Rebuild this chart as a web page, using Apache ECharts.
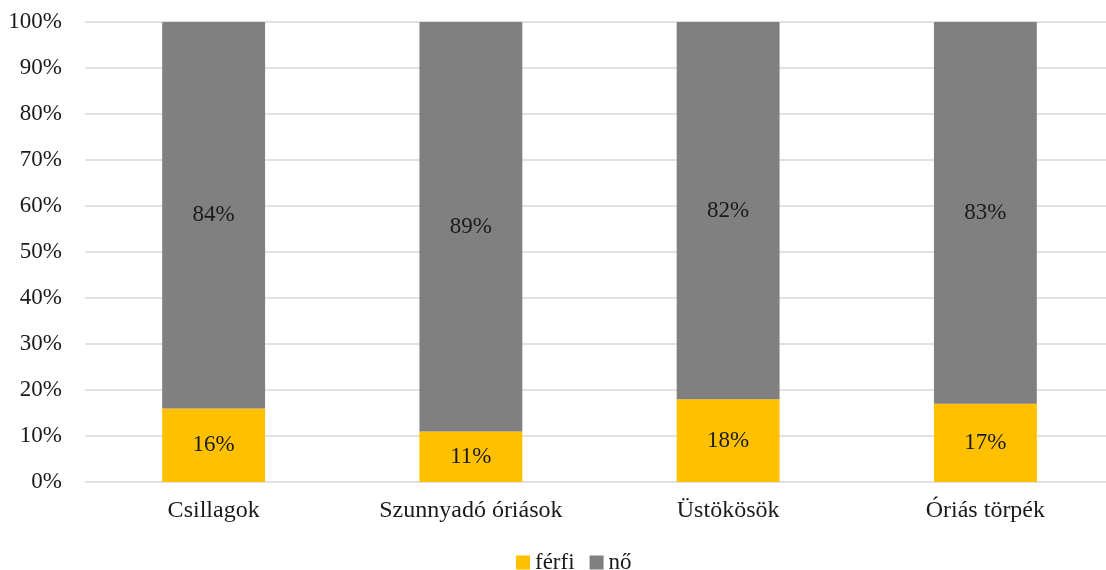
<!DOCTYPE html>
<html>
<head>
<meta charset="utf-8">
<script src="https://cdn.jsdelivr.net/npm/echarts@6/dist/echarts.min.js"></script>
<style>
  html, body { margin: 0; padding: 0; background: #fff; overflow: hidden; }
  #chart { width: 1106px; height: 570px; }
</style>
</head>
<body>
<div id="chart"></div>
<script>
// Gender split per group, in percent
const categories = ['Csillagok', 'Szunnyadó óriások', 'Üstökösök', 'Óriás törpék'];
const ferfi = [16, 11, 18, 17];
const no = [84, 89, 82, 83];
const yTicks = [0, 10, 20, 30, 40, 50, 60, 70, 80, 90, 100];

const font = '"Liberation Serif", "Times New Roman", serif';
const chart = echarts.init(document.getElementById('chart'));

const labelStyle = {
  show: true,
  position: 'inside',
  formatter: p => p.value + '%',
  fontFamily: font,
  fontSize: 23,
  color: '#1a1a1a'
};

chart.setOption({
  animation: false,
  textStyle: { fontFamily: font },
  grid: {
    left: 85, width: 1029, top: 22, height: 460,
    containLabel: false, outerBoundsMode: 'none'
  },
  legend: {
    bottom: -9,
    left: 511,
    itemWidth: 14,
    itemHeight: 14,
    itemGap: 15,
    icon: 'rect',
    textStyle: { fontFamily: font, fontSize: 23, color: '#1a1a1a' },
    data: ['férfi', 'nő']
  },
  xAxis: {
    type: 'category',
    data: categories,
    axisLine: { show: false },
    axisTick: { show: false },
    axisLabel: { fontFamily: font, fontSize: 24, color: '#1a1a1a', margin: 17 }
  },
  yAxis: {
    type: 'value',
    min: yTicks[0],
    max: yTicks[yTicks.length - 1],
    interval: 10,
    axisLine: { show: false },
    axisTick: { show: false },
    splitLine: { lineStyle: { color: '#d9d9d9', width: 1.5 } },
    axisLabel: {
      fontFamily: font, fontSize: 23, color: '#1a1a1a', margin: 23,
      formatter: v => v + '%'
    }
  },
  series: [
    {
      name: 'férfi',
      type: 'bar',
      stack: 'total',
      barWidth: '40%',
      data: ferfi,
      itemStyle: { color: '#ffc000' },
      label: labelStyle
    },
    {
      name: 'nő',
      type: 'bar',
      stack: 'total',
      data: no,
      itemStyle: { color: '#808080' },
      label: labelStyle
    }
  ]
});
</script>
</body>
</html>
